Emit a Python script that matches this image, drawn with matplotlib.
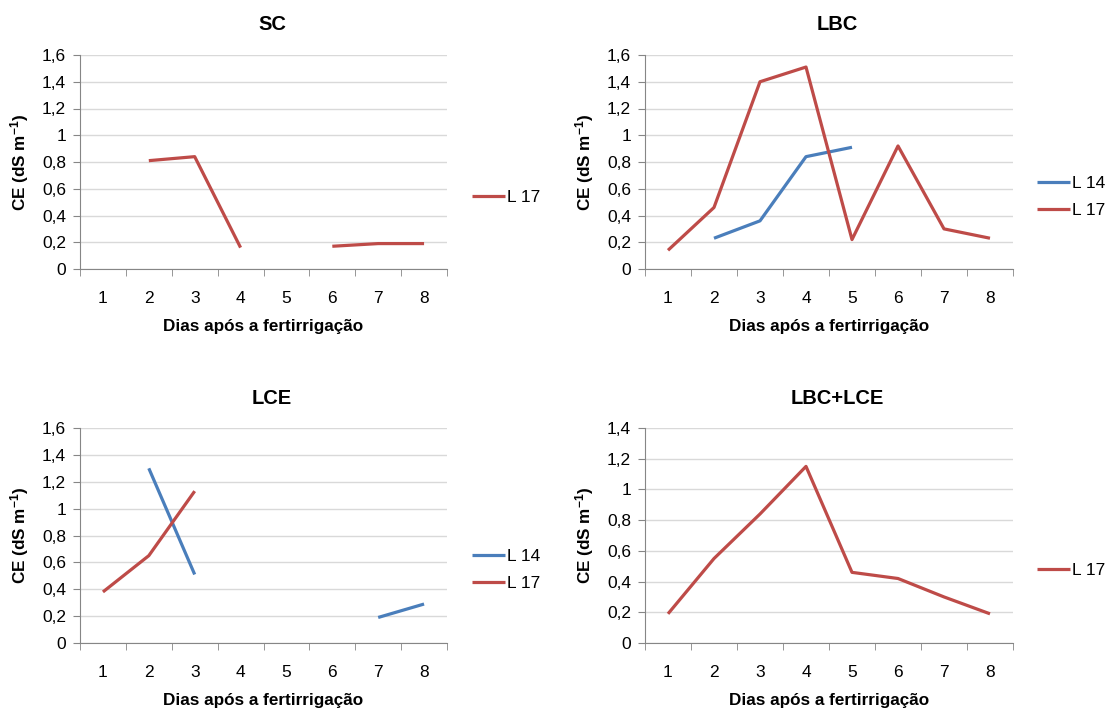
import numpy as np
import matplotlib
matplotlib.use("Agg")
import matplotlib.pyplot as plt
from matplotlib.ticker import FixedLocator, FuncFormatter

# data (np.nan = no reading that day)
days = [1, 2, 3, 4, 5, 6, 7, 8]
nan = np.nan
sc_l17 = [nan, 0.81, 0.84, 0.16, nan, 0.17, 0.19, 0.19]
lbc_l14 = [nan, 0.23, 0.36, 0.84, 0.91, nan, nan, nan]
lbc_l17 = [0.14, 0.46, 1.40, 1.51, 0.22, 0.92, 0.30, 0.23]
lce_l14 = [nan, 1.30, 0.51, nan, nan, nan, 0.19, 0.29]
lce_l17 = [0.38, 0.65, 1.13, nan, nan, nan, nan, nan]
lbclce_l17 = [0.19, 0.55, 0.84, 1.15, 0.46, 0.42, 0.30, 0.19]

BLUE = "#4A7EBB"
RED = "#BE4B48"
W, H = 1105, 709

plt.rcParams["font.family"] = ["Liberation Sans", "DejaVu Sans"]
plt.rcParams["mathtext.default"] = "regular"

fig = plt.figure(figsize=(W / 100, H / 100), dpi=100)


def px_axes(left, right, top, bottom):
    return fig.add_axes([left / W, 1 - bottom / H, (right - left) / W, (bottom - top) / H])


def comma(v, pos):
    s = f"{v:.1f}".rstrip("0").rstrip(".")
    return s.replace(".", ",")


def panel(box, title, title_xy, series, ymax, legend_xy):
    ax = px_axes(*box)
    for label, vals, color in series:
        ax.plot(days, vals, color=color, lw=2.3, label=label, solid_capstyle="butt")
    ax.set_xlim(0.5, 8.5)
    ax.set_ylim(0, ymax)
    ax.yaxis.set_major_locator(FixedLocator(np.arange(0, ymax + 0.01, 0.2)))
    ax.yaxis.set_major_formatter(FuncFormatter(comma))
    ax.set_xticks(days)
    ax.set_xticks(np.arange(0.5, 9, 1), minor=True)
    ax.tick_params(axis="x", which="major", length=0, pad=16, labelsize=12.5)
    ax.tick_params(axis="x", which="minor", length=5, color="#868686")
    ax.tick_params(axis="y", length=5, color="#868686", labelsize=12.5, pad=5)
    ax.grid(axis="y", color="#D9D9D9", lw=1)
    ax.set_axisbelow(True)
    for s in ("top", "right"):
        ax.spines[s].set_visible(False)
    for s in ("left", "bottom"):
        ax.spines[s].set_color("#868686")
    left, right, top, bottom = box
    fig.text(title_xy[0] / W, 1 - title_xy[1] / H, title, ha="center", va="center",
             fontsize=14.5, fontweight="bold")
    fig.text((left + right) / 2 / W, 1 - (bottom + 58) / H, "Dias após a fertirrigação",
             ha="center", va="center", fontsize=12.3, fontweight="bold")
    fig.text((left - 60) / W, 1 - (top + bottom) / 2 / H, "CE (dS m$^{-1}$)", rotation=90,
             ha="center", va="center", fontsize=12.3, fontweight="bold")
    fig.legend(handles=ax.get_lines(), loc="center left",
               bbox_to_anchor=(legend_xy[0] / W, 1 - legend_xy[1] / H),
               frameon=False, fontsize=12.5, borderpad=0, borderaxespad=0,
               handlelength=1.9, handletextpad=0.1, labelspacing=0.7)
    return ax


panel((80, 447, 55, 269), "SC", (272, 24), [("L 17", sc_l17, RED)], 1.6, (472, 197))
panel((645, 1013, 55, 269), "LBC", (837, 24),
      [("L 14", lbc_l14, BLUE), ("L 17", lbc_l17, RED)], 1.6, (1037, 197))
panel((80, 447, 428, 643), "LCE", (272, 398),
      [("L 14", lce_l14, BLUE), ("L 17", lce_l17, RED)], 1.6, (472, 570))
panel((645, 1013, 428, 643), "LBC+LCE", (837, 398), [("L 17", lbclce_l17, RED)], 1.4, (1037, 570))

fig.savefig("out.png", dpi=100)
